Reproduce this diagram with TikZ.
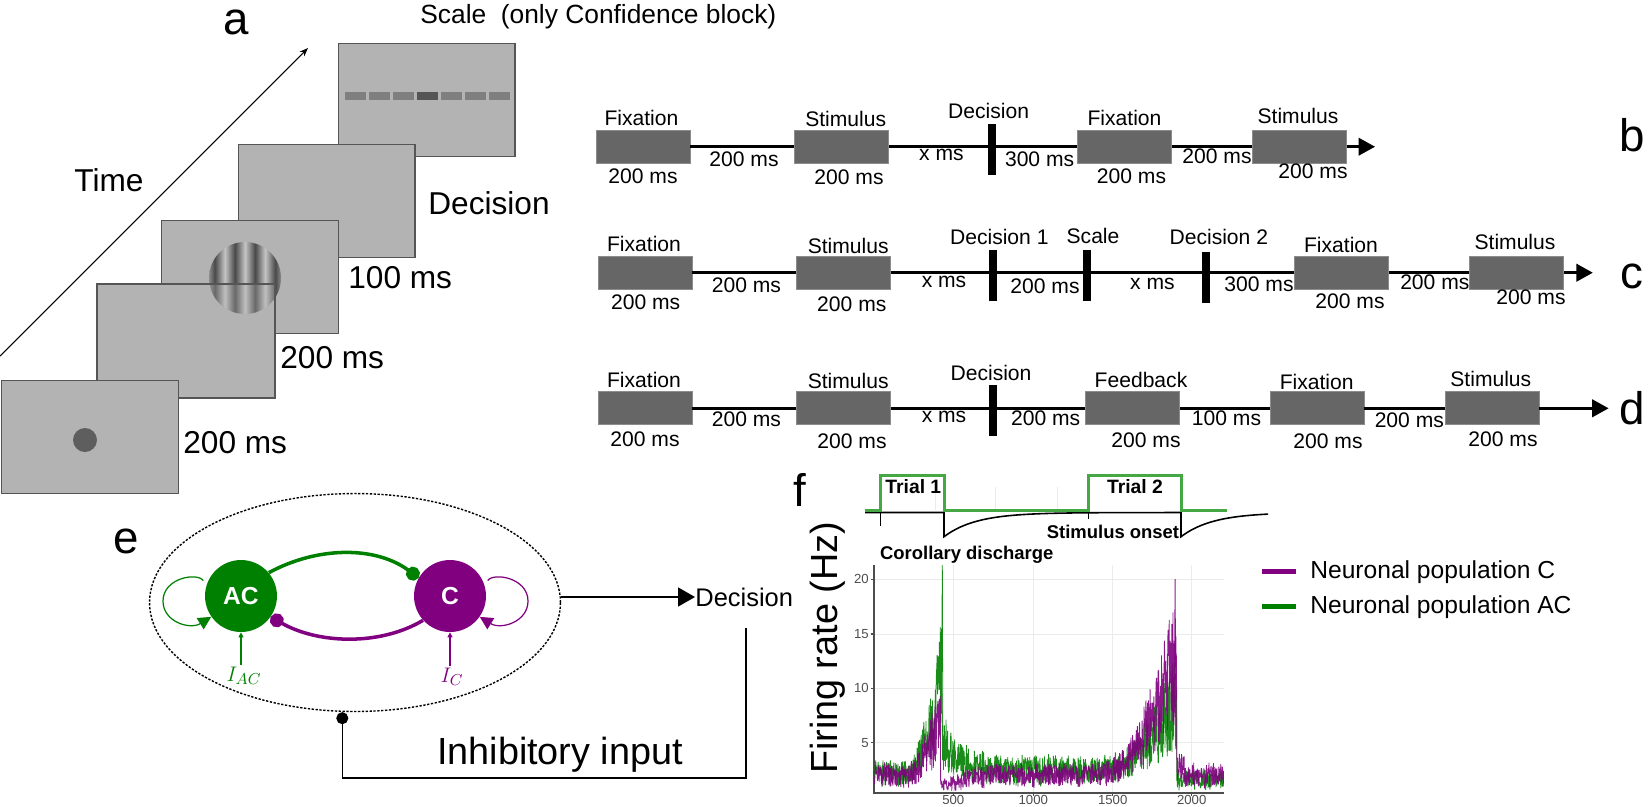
\documentclass[tikz,border=0pt]{standalone}
\usepackage{fontspec}
\setmainfont{Liberation Sans}
\usetikzlibrary{arrows.meta,shapes.geometric}

\definecolor{framefill}{HTML}{B3B3B3}
\definecolor{frameline}{HTML}{555555}
\definecolor{boxgray}{HTML}{666666}
\definecolor{barGray}{HTML}{7F7F7F}
\definecolor{barDark}{HTML}{555555}
\definecolor{dotgray}{HTML}{5E5E5E}
\definecolor{grLight}{HTML}{C4C4C4}
\definecolor{grDark}{HTML}{4A4A4A}
\definecolor{grMid}{HTML}{8A8A8A}
\definecolor{acgreen}{HTML}{008000}
\definecolor{cpurple}{HTML}{800080}
\definecolor{trialgreen}{HTML}{45A845}
\definecolor{gridgray}{HTML}{EBEBEB}
\definecolor{axisgray}{HTML}{4D4D4D}

% only the middle half (25bp..75bp) of a shading is shown on the path
\pgfdeclarehorizontalshading{grating}{100bp}{color(0bp)=(grLight); color(25bp)=(grMid); color(29bp)=(grDark); color(36bp)=(grLight); color(43bp)=(grDark); color(50bp)=(grLight); color(57bp)=(grDark); color(64bp)=(grLight); color(71bp)=(grDark); color(75bp)=(grMid); color(100bp)=(grLight)}

\tikzset{
  frame/.style={draw=frameline, fill=framefill, line width=0.7pt, minimum width=3.54cm, minimum height=2.26cm, inner sep=0pt, anchor=north west},
  lbla/.style={font=\fontsize{18}{20}\selectfont, inner sep=0pt},
  panel/.style={font=\fontsize{26}{28}\selectfont, inner sep=0pt},
  tbox/.style={fill=boxgray, draw=boxgray!75!white, line width=0.5pt, minimum width=1.88cm, minimum height=0.66cm, inner sep=0pt},
  tbar/.style={fill=black, minimum width=0.16cm, minimum height=1.02cm, inner sep=0pt},
  ttext/.style={font=\fontsize{12}{14}\selectfont, inner sep=0pt},
  tline/.style={line width=1.5pt},
  tend/.style={line width=1.5pt, -{Triangle[length=0.33cm, width=0.35cm]}},
  timearr/.style={line width=0.6pt, -{Stealth[length=0.17cm, width=0.13cm]}},
  neuron/.style={circle, minimum size=1.44cm, inner sep=0pt, text=white, font=\bfseries\fontsize{14}{16}\selectfont},
  pop/.style={ellipse, draw, line width=0.8pt, dash pattern=on 1.3pt off 0.9pt, minimum width=8.22cm, minimum height=4.36cm, inner sep=0pt},
  inh/.style={line width=2pt, -{Circle[length=0.28cm]}},
  selfloop/.style={line width=0.7pt, -{Triangle[length=0.26cm, width=0.26cm]}},
  inarr/.style={line width=0.6pt, -{Triangle[length=0.1cm, width=0.1cm]}},
  outarr/.style={line width=0.9pt, -{Triangle[length=0.34cm, width=0.38cm]}},
  fbline/.style={line width=0.8pt, -{Circle[length=0.24cm]}},
  gridline/.style={gridgray, line width=0.5pt},
  axis/.style={axisgray, line width=0.6pt},
  ticklbl/.style={font=\fontsize{7.5}{9}\selectfont, text=axisgray, inner sep=0.5pt},
  trace/.style={line width=0.45pt, opacity=0.9, line join=bevel},
  boldlbl/.style={font=\bfseries\fontsize{10.5}{12}\selectfont, inner sep=0pt},
  legline/.style={minimum width=0.68cm, minimum height=0.1cm, inner sep=0pt},
  legtext/.style={font=\fontsize{14}{16}\selectfont, inner sep=0pt, anchor=west}
}

\begin{document}
\begin{tikzpicture}[x=0.02cm, y=-0.02cm,
    declare function={
      gA(\x)=ifthenelse(\x<200,2.2,ifthenelse(\x<432,2.2+10*((\x-200)/232)^2,ifthenelse(\x<700,2.6+2.6*exp(-(\x-432)/90),ifthenelse(\x<1450,2.5,ifthenelse(\x<1905,2.5+6.5*((\x-1450)/455)^2,1.6)))));
      pC(\x)=ifthenelse(\x<200,2.0,ifthenelse(\x<420,2.0+5.5*((\x-200)/220)^2,ifthenelse(\x<620,0.9+0.9*(\x-420)/200,ifthenelse(\x<1440,2.0,ifthenelse(\x<1905,2.2+11*((\x-1440)/465)^2,ifthenelse(\x<1960,2.8,2.0))))));
    }]
    \useasboundingbox (0,0) rectangle (1648,806);

    % ================= PANEL a (trial sequence) =================
    \node[panel] (la) at (236,22) {a};
    \node[anchor=west, inner sep=0pt, font=\fontsize{15}{17}\selectfont] (scaleTxt) at (420,17) {Scale\ \ (only Confidence block)};

    % 1. Time arrow
    \coordinate (tStart) at (0,356);
    \coordinate (tEnd) at (308,48);
    \draw[timearr] (tStart) -- (tEnd);
    \node[lbla] (timeTxt) at (109,180) {Time};

    % 2. Screens, back to front
    \node[frame] (scr) at (337.5,43) {};
    \foreach \i/\c in {0/barGray,1/barGray,2/barGray,3/barDark,4/barGray,5/barGray,6/barGray}
        \fill[\c] (345.4+24*\i,92) rectangle +(20.4,7.7);

    \node[frame] (dcs) at (237.5,144) {};
    \node[frame] (stim) at (161,220) {};
    \shade[shading=grating] (245,278) circle [radius=36];

    \node[frame] (blank) at (97,284) {};
    \begin{scope}
        \clip (blank.north west) rectangle (blank.south east);
        \shade[shading=grating, opacity=0.7] (245,278) circle [radius=36];
    \end{scope}
    \draw[frameline, line width=0.7pt] (blank.north west) rectangle (blank.south east);

    \node[frame] (fix) at (0.7,380) {};
    \node[circle, fill=dotgray, minimum size=0.48cm, inner sep=0pt] (fixdot) at (85,440) {};

    % 3. Durations
    \node[lbla, anchor=west] (tDec) at (428,203) {Decision};
    \node[lbla, anchor=west] (t100) at (348,278) {100 ms};
    \node[lbla, anchor=west] (t200b) at (280,358) {200 ms};
    \node[lbla, anchor=west] (t200a) at (183,443) {200 ms};

    % ================= PANEL b (timeline) =================
    \node[tbox] (bF1) at (643,146.7) {};
    \node[tbox] (bS1) at (841.6,146.7) {};
    \node[tbar] (bD) at (991.6,149.5) {};
    \node[tbox] (bF2) at (1124.8,146.7) {};
    \node[tbox] (bS2) at (1299.2,146.7) {};
    \coordinate (bEnd) at (1375,146.7);

    \draw[tline] (bF1) -- (bS1);
    \draw[tline] (bS1) -- (bF2);
    \draw[tline] (bF2) -- (bS2);
    \draw[tend] (bS2) -- (bEnd);

    \node[ttext] (bF1a) at (641.4,117.7) {Fixation};
    \node[ttext] (bF1b) at (643,176) {200 ms};
    \node[ttext] (bG1) at (744,159) {200 ms};
    \node[ttext] (bS1a) at (845.7,119) {Stimulus};
    \node[ttext] (bS1b) at (849,177.7) {200 ms};
    \node[ttext] (bG2) at (941.4,155) {x ms};
    \node[ttext] (bDa) at (988.6,111) {Decision};
    \node[ttext] (bG3) at (1039.6,159) {300 ms};
    \node[ttext] (bF2a) at (1124.5,118) {Fixation};
    \node[ttext] (bF2b) at (1131.5,176) {200 ms};
    \node[ttext] (bG4) at (1217,156.7) {200 ms};
    \node[ttext] (bS2a) at (1298,115.7) {Stimulus};
    \node[ttext] (bS2b) at (1313,171) {200 ms};
    \node[panel] (lb) at (1632,135) {b};

    % ================= PANEL c (timeline, confidence) =================
    \node[tbox] (cF1) at (645,272.7) {};
    \node[tbox] (cS1) at (843.9,272.7) {};
    \node[tbar] (cD1) at (993,275.9) {};
    \node[tbar] (cSc) at (1087.2,275.9) {};
    \node[tbar] (cD2) at (1206.2,277.7) {};
    \node[tbox] (cF2) at (1341.7,272.7) {};
    \node[tbox] (cS2) at (1516.6,272.7) {};
    \coordinate (cEnd) at (1592.8,272.7);

    \draw[tline] (cF1) -- (cS1);
    \draw[tline] (cS1) -- (cF2);
    \draw[tline] (cF2) -- (cS2);
    \draw[tend] (cS2) -- (cEnd);

    \node[ttext] (cF1a) at (644,244.3) {Fixation};
    \node[ttext] (cF1b) at (645.7,302.7) {200 ms};
    \node[ttext] (cG1) at (746.4,285) {200 ms};
    \node[ttext] (cS1a) at (848.2,245.7) {Stimulus};
    \node[ttext] (cS1b) at (851.8,304) {200 ms};
    \node[ttext] (cG2) at (944,281.7) {x ms};
    \node[ttext] (cD1a) at (999.3,236.7) {Decision 1};
    \node[ttext] (cG3) at (1045,286.7) {200 ms};
    \node[ttext] (cSca) at (1093,236) {Scale};
    \node[ttext] (cG4) at (1152.4,284) {x ms};
    \node[ttext] (cD2a) at (1218.8,236.7) {Decision 2};
    \node[ttext] (cG5) at (1259,284) {300 ms};
    \node[ttext] (cF2a) at (1341,245) {Fixation};
    \node[ttext] (cF2b) at (1350,301) {200 ms};
    \node[ttext] (cG6) at (1434.8,282.7) {200 ms};
    \node[ttext] (cS2a) at (1515,242.3) {Stimulus};
    \node[ttext] (cS2b) at (1531,297.7) {200 ms};
    \node[panel] (lc) at (1632,276.7) {c};

    % ================= PANEL d (timeline, feedback) =================
    \node[tbox] (dF1) at (645,408.3) {};
    \node[tbox] (dS1) at (843.9,408.3) {};
    \node[tbar] (dD) at (993,410.9) {};
    \node[tbox] (dFb) at (1132.7,408.3) {};
    \node[tbox] (dF2) at (1317,408.3) {};
    \node[tbox] (dS2) at (1492,408.3) {};
    \coordinate (dEnd) at (1608.6,408.3);

    \draw[tline] (dF1) -- (dS1);
    \draw[tline] (dS1) -- (dFb);
    \draw[tline] (dFb) -- (dF2);
    \draw[tline] (dF2) -- (dS2);
    \draw[tend] (dS2) -- (dEnd);

    \node[ttext] (dF1a) at (644,380) {Fixation};
    \node[ttext] (dF1b) at (645,439) {200 ms};
    \node[ttext] (dG1) at (746.4,419.3) {200 ms};
    \node[ttext] (dS1a) at (848.2,380.7) {Stimulus};
    \node[ttext] (dS1b) at (852,441) {200 ms};
    \node[ttext] (dG2) at (944,416.7) {x ms};
    \node[ttext] (dDa) at (991,372.7) {Decision};
    \node[ttext] (dG3) at (1045.7,418.3) {200 ms};
    \node[ttext] (dFba) at (1141,380) {Feedback};
    \node[ttext] (dFbb) at (1146,440) {200 ms};
    \node[ttext] (dG4) at (1226.5,418.3) {100 ms};
    \node[ttext] (dF2a) at (1316.7,382.3) {Fixation};
    \node[ttext] (dF2b) at (1328,441) {200 ms};
    \node[ttext] (dG5) at (1409.3,420) {200 ms};
    \node[ttext] (dS2a) at (1490.8,379.3) {Stimulus};
    \node[ttext] (dS2b) at (1503,439) {200 ms};
    \node[panel] (ld) at (1632,408) {d};

    % ================= PANEL e (network model) =================
    \node[panel] (le) at (126,541.7) {e};
    \node[pop] (pop) at (355,602.5) {};
    \node[neuron, fill=acgreen] (AC) at (241,596) {AC};
    \node[neuron, fill=cpurple] (C) at (450,596) {C};

    % 1. Mutual inhibition
    \draw[inh, acgreen] (AC.40) .. controls (318,546) and (376,546) .. (C.150);
    \draw[inh, cpurple] (C.222) .. controls (380,646) and (318,644) .. (AC.325);

    % 2. Self excitation
    \draw[selfloop, acgreen, shorten <=3pt] (AC.162) .. controls (197,572) and (163,578) .. (163,601) .. controls (163,622) and (190,630) .. (AC.215);
    \draw[selfloop, cpurple, shorten <=3pt] (C.18) .. controls (494,572) and (528,578) .. (528,601) .. controls (528,622) and (501,630) .. (C.325);

    % 3. External inputs
    \node[text=acgreen, inner sep=1pt, font=\fontsize{13}{15}\selectfont] (IAC) at (244,676) {$I_{AC}$};
    \node[text=cpurple, inner sep=1pt, font=\fontsize{13}{15}\selectfont] (IC) at (452,677) {$I_{C}$};
    \draw[inarr, acgreen] (IAC.north -| AC.south) -- (AC.south);
    \draw[inarr, cpurple] (IC.north -| C.south) -- (C.south);

    % 4. Read-out and feedback
    \node[anchor=west, inner sep=0pt, font=\fontsize{14.5}{16}\selectfont] (dec) at (695,597) {Decision};
    \draw[outarr] (pop.east |- dec.west) -- (dec.west);
    \coordinate (fbTop) at (746,628);
    \coordinate (fbCornerR) at (746,778);
    \coordinate (fbCornerL) at (342.3,778);
    \draw[fbline] (fbTop) -- (fbCornerR) -- (fbCornerL) -- (pop.south -| fbCornerL);
    \node[inner sep=0pt, font=\fontsize{21.5}{24}\selectfont] (inhTxt) at (560,755) {Inhibitory input};

    % ================= PANEL f (firing rates) =================
    \node[panel] (lf) at (800,490) {f};

    % 1. Stimulus and corollary discharge traces
    \foreach \gx in {935,995,1057}
        \draw[gridline] (\gx,487) -- (\gx,510);
    \draw[line width=0.9pt] (865,512.5) -- (944,512.5) -- (944,536.7)
        -- plot[domain=944:1181, samples=60] (\x,{512.5+24.2*exp(-(\x-944)/32)})
        -- (1181,536.7)
        -- plot[domain=1181:1268, samples=30] (\x,{512.5+24.2*exp(-(\x-1181)/32)});
    \draw[line width=0.4pt] (880,512.5) -- (880,526);
    \draw[line width=0.4pt] (1088,512.5) -- (1088,519);
    \draw[trialgreen, line width=1.7pt] (865,510) -- (880,510) -- (880,475) -- (944,475) -- (944,510)
        -- (1088,510) -- (1088,475) -- (1181,475) -- (1181,510) -- (1227,510);
    \node[boldlbl, font=\bfseries\fontsize{11}{13}\selectfont] (tr1) at (913.3,486.7) {Trial 1};
    \node[boldlbl, font=\bfseries\fontsize{11}{13}\selectfont] (tr2) at (1135,486.7) {Trial 2};
    \node[boldlbl] (onset) at (1113,532) {Stimulus onset};
    \node[boldlbl] (cd) at (966.7,554.3) {Corollary discharge};

    % 2. Grid and axes
    \foreach \gy in {579.3,634,688.3,742.7}
        \draw[gridline] (874,\gy) -- (1224,\gy);
    \foreach \gx in {953.3,1033.3,1112.7,1191.7}
        \draw[gridline] (\gx,565) -- (\gx,793);
    \draw[axis] (874,565) -- (874,793) -- (1224,793);
    \foreach \v/\gy in {20/579.3,15/634,10/688.3,5/742.7} {
        \draw[axis] (870.5,\gy) -- (874,\gy);
        \node[ticklbl, anchor=east] (yt\v) at (870,\gy) {\v};
    }
    \foreach \v/\gx in {500/953.3,1000/1033.3,1500/1112.7,2000/1191.7} {
        \draw[axis] (\gx,793) -- (\gx,796);
        \node[ticklbl, anchor=north] (xt\v) at (\gx,794) {\v};
    }

    % 3. Population rates (noisy)
    \begin{scope}
        \clip (874,565) rectangle (1224,793);
        \pgfmathsetseed{11}
        \draw[trace, acgreen] plot[domain=0:2200, samples=1100, variable=\x]
            ({873.8+0.159*\x},{797.2-10.9*max(0.3,gA(\x)*(1+0.5*rand)+0.3*rand)});
        \draw[trace, acgreen] (941.9,644.6) -- (942.3,557) -- (942.8,731.8);
        \draw[trace, cpurple] plot[domain=0:2200, samples=1100, variable=\x]
            ({873.8+0.159*\x},{797.2-10.9*max(0.3,pC(\x)*(1+0.5*rand)+0.25*rand)});
        \draw[trace, cpurple] (1174.5,660) -- (1175.1,579) -- (1175.7,680);
    \end{scope}

    \node[rotate=90, inner sep=0pt, font=\fontsize{21.5}{24}\selectfont] (ylab) at (828,648) {Firing rate (Hz)};

    % 4. Legend
    \node[legline, fill=cpurple] (legC) at (1279,571.7) {};
    \node[legline, fill=acgreen] (legAC) at (1279,606.7) {};
    \node[legtext] (legCt) at (1310,571.7) {Neuronal population C};
    \node[legtext] (legACt) at (1310,606.7) {Neuronal population AC};

\end{tikzpicture}
\end{document}
